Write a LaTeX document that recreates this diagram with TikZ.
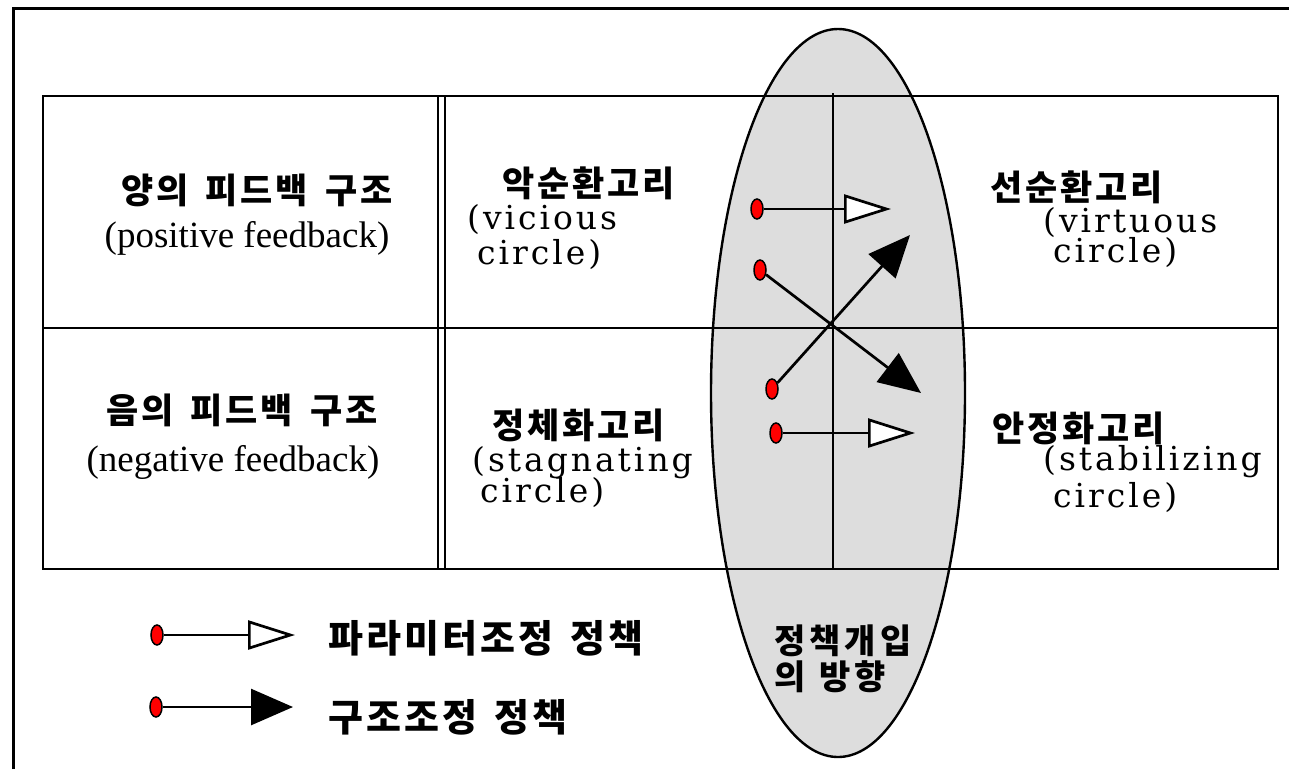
\documentclass[tikz,border=0pt]{standalone}
\usepackage{fontspec}
\setmainfont{Liberation Serif}
\newfontfamily\kr{Noto Sans CJK KR}[LetterSpace=8]
\newfontfamily\krw{Noto Sans CJK KR}[LetterSpace=12]
\newfontfamily\lat{DejaVu Serif}[LetterSpace=9]
\usetikzlibrary{arrows.meta,shapes.geometric}
\definecolor{ellgray}{RGB}{221,221,221}
\newcommand{\krsp}{\hspace{17pt}}
\tikzset{
  kt/.style={font=\kr\bfseries\fontsize{35}{38}\selectfont, inner sep=0pt},
  lt/.style={font=\lat\fontsize{33}{35}\selectfont, inner sep=0pt, anchor=west},
  et/.style={font=\rmfamily\fontsize{37}{40}\selectfont, inner sep=0pt},
  gt/.style={font=\kr\bfseries\fontsize{38}{40}\selectfont, inner sep=0pt, anchor=west},
  ht/.style={font=\krw\bfseries\fontsize{34}{36}\selectfont, inner sep=0pt, anchor=west},
  dot/.style={ellipse, draw, fill=red, line width=1.5pt, minimum width=12pt, minimum height=20pt, inner sep=0pt},
  warrow/.style={line width=2.7pt, -{Triangle[length=47pt,width=29pt,fill=white]}},
  barrow/.style={line width=2.7pt, -{Triangle[length=42pt,width=36pt]}},
  tline/.style={line width=2.8pt}
}
\begin{document}
\begin{tikzpicture}[x=1pt,y=-1pt]
\useasboundingbox (0,0) rectangle (1289,769);
% outer frame
\draw[line width=3pt] (13,769) -- (13,8) -- (1289,8);
% ellipse
\draw[fill=ellgray, line width=2.4pt] (838,393) ellipse [x radius=127, y radius=364];
% table
\draw[tline] (43,96) rectangle (1278,569);
\draw[tline] (43,328) -- (1278,328);
\draw[line width=2pt] (438,96) -- (438,569);
\draw[line width=2pt] (445,96) -- (445,569);
\draw[line width=2.2pt] (833,93) -- (833,569);
% texts left column
\node[kt] (pos) at (257,190) {양의\krsp 피드백\krsp 구조};
\node[et] (posen) at (247,238) {(positive feedback)};
\node[kt] (neg) at (242,410) {음의\krsp 피드백\krsp 구조};
\node[et] (negen) at (233,462) {(negative feedback)};
% middle column
\node[kt, anchor=west] (vic) at (502,183) {악순환고리};
\node[lt] (vic1) at (467,220) {(vicious};
\node[lt] (vic2) at (477,255) {circle)};
\node[kt, anchor=west] (sta) at (492,425) {정체화고리};
\node[lt] (sta1) at (472,463) {(stagnating};
\node[lt] (sta2) at (480,493) {circle)};
% right column
\node[kt, anchor=west] (vir) at (990,187) {선순환고리};
\node[lt] (vir1) at (1043,223) {(virtuous};
\node[lt] (vir2) at (1053,253) {circle)};
\node[kt, anchor=west] (stb) at (992,428) {안정화고리};
\node[lt] (stb1) at (1043,462) {(stabilizing};
\node[lt] (stb2) at (1053,498) {circle)};
% arrows in ellipse
\node[dot] (d1) at (757,209) {};
\coordinate (t1) at (891,209);
\draw[warrow] (d1) -- (t1);
\node[dot] (d2) at (760,270) {};
\coordinate (t2) at (921,393);
\draw[barrow] (d2) -- (t2);
\node[dot] (d3) at (772,389) {};
\coordinate (t3) at (910,235);
\draw[barrow] (d3) -- (t3);
\node[dot] (d4) at (776,433) {};
\coordinate (t4) at (915,433);
\draw[warrow] (d4) -- (t4);
% ellipse label
\node[ht] (dir1) at (774,641) {정책개입};
\node[ht] (dir2) at (774,677) {의\hspace{14pt}방향};
% legend
\node[dot] (d5) at (157,635) {};
\coordinate (t5) at (295,635);
\draw[warrow] (d5) -- (t5);
\node[dot] (d6) at (156,707) {};
\coordinate (t6) at (293,707);
\draw[barrow] (d6) -- (t6);
\node[gt] (leg1) at (328,638) {파라미터조정\krsp 정책};
\node[gt] (leg2) at (328,717) {구조조정\krsp 정책};
\end{tikzpicture}
\end{document}
